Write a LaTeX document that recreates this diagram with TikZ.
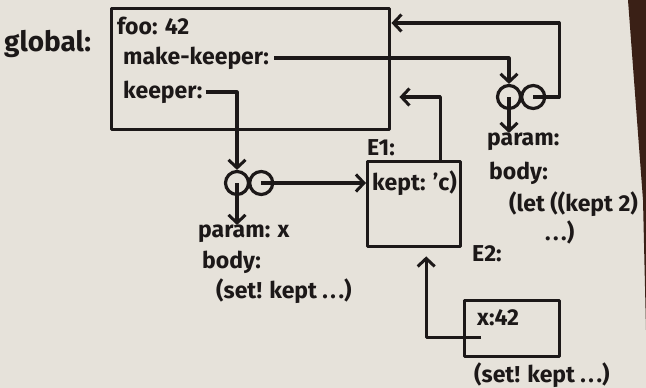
\documentclass[tikz,border=0pt]{standalone}
\usepackage{fontspec}
\setmainfont{Fira Sans}
\usetikzlibrary{positioning,arrows.meta}
\definecolor{paper}{RGB}{230,226,218}
\definecolor{wood}{RGB}{58,32,22}
\definecolor{ink}{RGB}{28,24,24}
\newcommand\dotz{.\kern2.5pt.\kern2.5pt.}

\begin{document}
\begin{tikzpicture}[x=1pt, y=-1pt,
  frame/.style={draw=ink, line width=3.4pt, line join=round, anchor=north west},
  lbl/.style={font=\fontsize{23}{26}\selectfont\bfseries, text=ink, inner sep=0pt, anchor=west},
  ring/.style={draw=ink, circle, line width=3.2pt, minimum size=23pt, inner sep=0pt},
  ptr/.style={draw=ink, line width=3.2pt, line join=round,
    -{Straight Barb[length=8pt, width=17pt, line width=3pt]}}
]

%% -- paper -----------------------------------------------------
\fill[paper] (0,0) rectangle (646,388);
\fill[wood] (628,0) -- (646,0) -- (646,330) -- (643,200) -- cycle;

%% -- global frame ----------------------------------------------
\node[lbl, font=\fontsize{28}{30}\selectfont\bfseries] (gname) at (4,44) {global:};
\node[frame, minimum width=278pt, minimum height=121pt] (glob) at (110,7) {};
\node[lbl] (foo) at (117,26) {foo: 42};
\node[lbl] (mk)  at (123,58) {make-keeper:};
\node[lbl] (kp)  at (123,92) {keeper:};

%% -- keeper procedure ------------------------------------------
\node[ring] (kl) at (237,183) {};
\node[ring, right=-2pt of kl] (kr) {};
\node[lbl] (kpar)  at (198,234) {param: x};
\node[lbl] (kbody) at (202,262) {body:};
\node[lbl] (kcode) at (216,291) {(set! kept \dotz)};

%% -- make-keeper procedure -------------------------------------
\node[ring] (ml) at (509,97) {};
\node[ring, right=-2pt of ml] (mr) {};
\node[lbl] (mpar)  at (487,142) {param:};
\node[lbl] (mbody) at (489,173) {body:};
\node[lbl] (mcode) at (509,204) {(let ((kept 2)};
\node[lbl] (mend)  at (545,232) {\dotz)};

%% -- E1 frame --------------------------------------------------
\node[lbl] (eonel) at (367,148) {E1:};
\node[frame, minimum width=93pt, minimum height=85pt] (eone) at (366,160) {};
\node[lbl] (kept) at (372,183) {kept: 'c)};

%% -- E2 frame --------------------------------------------------
\node[lbl] (etwol) at (472,254) {E2:};
\node[frame, minimum width=95pt, minimum height=56pt] (etwo) at (463,299) {};
\node[lbl] (xval)  at (477,318) {x:42};
\node[lbl] (ecode) at (474,375) {(set! kept \dotz)};

%% -- pointers --------------------------------------------------
\draw[ptr] ([xshift=5pt]mk.east) -| (ml.north);
\draw[ptr] ([xshift=3pt]kp.east) -| (kl.north);
\draw[ptr] (kl.center) -- (kl |- kpar.north);
\draw[ptr] (kr.center) -- (eone.west |- kr.center);
\draw[ptr] (ml.center) -- (ml |- mpar.north);
\draw[ptr] (mr.center) -- ++(26,0) |- ([yshift=-16pt]glob.north east);
\draw[ptr] ([xshift=-22pt]eone.north east) |- ([xshift=8pt,yshift=-90pt]glob.north east);
\draw[ptr, shorten >=8pt] ([xshift=18pt,yshift=-9pt]etwo.west) -| ([xshift=12pt]eone.south);

\end{tikzpicture}
\end{document}
